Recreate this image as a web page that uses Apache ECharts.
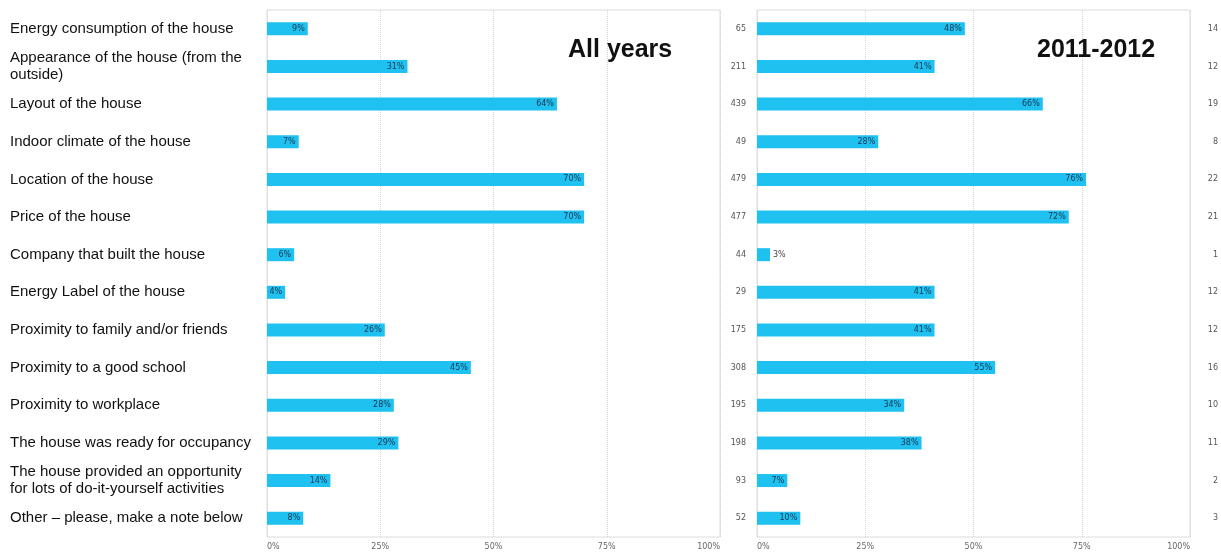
<!DOCTYPE html>
<html><head><meta charset="utf-8">
<script src="https://cdn.jsdelivr.net/npm/echarts@6/dist/echarts.min.js"></script>
<style>html,body{margin:0;padding:0;background:#fff}#c{width:1221px;height:553px}</style>
</head><body><div id="c"></div>
<script>
const categories = [
  'Energy consumption of the house',
  'Appearance of the house (from the\noutside)',
  'Layout of the house',
  'Indoor climate of the house',
  'Location of the house',
  'Price of the house',
  'Company that built the house',
  'Energy Label of the house',
  'Proximity to family and/or friends',
  'Proximity to a good school',
  'Proximity to workplace',
  'The house was ready for occupancy',
  'The house provided an opportunity\nfor lots of do-it-yourself activities',
  'Other \u2013 please, make a note below'
];
const allYearsPct = [9, 31, 64, 7, 70, 70, 6, 4, 26, 45, 28, 29, 14, 8];
const pct2011 = [48, 41, 66, 28, 76, 72, 3, 41, 41, 55, 34, 38, 7, 10];
const countAll = [65, 211, 439, 49, 479, 477, 44, 29, 175, 308, 195, 198, 93, 52];
const count2011 = [14, 12, 19, 8, 22, 21, 1, 12, 12, 16, 10, 11, 2, 3];
const xTicks = [0, 25, 50, 75, 100];
const titles = ['All years', '2011-2012'];

const barColor = '#1fc1f0';
function barData(vals) {
  return vals.map(v => ({
    value: v,
    label: v < 4 ? {position: 'right', color: '#444'} : {}
  }));
}
const valueAxis = (gi) => ({
  type: 'value', gridIndex: gi, min: 0, max: 100, interval: 25,
  axisLine: {show: false}, axisTick: {show: false},
  splitLine: {show: true, lineStyle: {type: 'dotted', color: '#d4d4d4'}},
  axisLabel: {formatter: v => xTicks.includes(v) ? v + '%' : '', fontFamily: 'DejaVu Sans', fontSize: 8, color: '#666',
    margin: 6, alignMinLabel: 'left', alignMaxLabel: 'right'}
});
const titleStyle = {fontFamily: 'Liberation Sans', fontWeight: 'bold', fontSize: 25, color: '#111'};
const chart = echarts.init(document.getElementById('c'));
chart.setOption({
  animation: false,
  title: [
    {text: titles[0], left: 563, top: 33, textStyle: titleStyle},
    {text: titles[1], left: 1032, top: 33, textStyle: titleStyle}
  ],
  grid: [
    {left: 267, right: 501, top: 10, bottom: 16, show: true, borderColor: '#dcdcdc', borderWidth: 1, backgroundColor: 'transparent'},
    {left: 757, right: 30, top: 10, bottom: 16, show: true, borderColor: '#dcdcdc', borderWidth: 1, backgroundColor: 'transparent'}
  ],
  xAxis: [valueAxis(0), valueAxis(1)],
  yAxis: [
    {type: 'category', gridIndex: 0, data: categories, inverse: true,
      axisLine: {show: false}, axisTick: {show: false},
      axisLabel: {align: 'left', margin: 257, fontFamily: 'Liberation Sans', fontSize: 15, color: '#111', lineHeight: 17}},
    {type: 'category', gridIndex: 1, data: countAll, inverse: true, position: 'left',
      axisLine: {show: false}, axisTick: {show: false},
      axisLabel: {margin: 11, fontFamily: 'DejaVu Sans', fontSize: 8, color: '#555'}},
    {type: 'category', gridIndex: 1, data: count2011, inverse: true, position: 'right',
      axisLine: {show: false}, axisTick: {show: false},
      axisLabel: {align: 'right', margin: 28, fontFamily: 'DejaVu Sans', fontSize: 8, color: '#555'}}
  ],
  series: [
    {type: 'bar', xAxisIndex: 0, yAxisIndex: 0, data: barData(allYearsPct), barWidth: 13,
      itemStyle: {color: barColor},
      label: {show: true, position: 'insideRight', formatter: '{c}%', fontFamily: 'DejaVu Sans', fontSize: 8, color: '#1d3550', distance: 3}},
    {type: 'bar', xAxisIndex: 1, yAxisIndex: 1, data: barData(pct2011), barWidth: 13,
      itemStyle: {color: barColor},
      label: {show: true, position: 'insideRight', formatter: '{c}%', fontFamily: 'DejaVu Sans', fontSize: 8, color: '#1d3550', distance: 3}}
  ]
});
</script></body></html>
